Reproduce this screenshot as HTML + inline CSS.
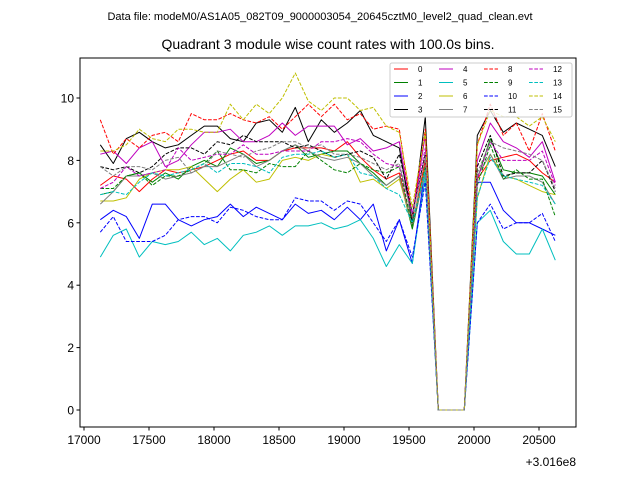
<!DOCTYPE html>
<html><head><meta charset="utf-8"><style>
body{margin:0;background:#fff;font-family:"Liberation Sans","DejaVu Sans",sans-serif;}
svg text{font-family:"Liberation Sans","DejaVu Sans",sans-serif;}
</style></head><body>
<svg id="chart" width="640" height="480" viewBox="0 0 640 480">
<rect width="640" height="480" fill="#fff"/>
<text x="320" y="20" font-size="11" text-anchor="middle">Data file: modeM0/AS1A05_082T09_9000003054_20645cztM0_level2_quad_clean.evt</text>
<text x="328" y="49" font-size="14" text-anchor="middle">Quadrant 3 module wise count rates with 100.0s bins.</text>
<g id="series"></g>
<g id="axes"></g>
<g id="legend"></g>
</svg>
<script>
const xStart = 17125, xStep = 100;
const xTicks = [17000,17500,18000,18500,19000,19500,20000,20500];
const yTicks = [0,2,4,6,8,10];
const names = ["0","1","2","3","4","5","6","7","8","9","10","11","12","13","14","15"];
const s0=[7.2,7.5,7.4,7.0,7.4,7.7,7.6,7.7,7.8,8.0,8.2,8.3,8.0,8.0,8.3,8.4,8.4,8.4,8.3,8.6,8.1,7.7,7.4,7.6,5.9,8.0,0,0,0,7.4,8.0,8.1,8.2,8.0,7.6,7.3];
const s1=[6.9,7.0,7.5,7.6,7.3,7.6,7.4,7.8,8.0,7.8,8.4,8.2,7.9,8.0,8.3,8.5,8.1,8.2,8.3,8.3,7.9,7.6,7.2,7.5,5.8,7.7,0,0,0,7.4,8.7,7.7,7.6,7.6,7.5,6.9];
const s2=[6.1,6.4,6.2,5.5,6.6,6.6,6.1,5.9,6.1,6.2,6.6,6.2,6.5,6.3,6.1,6.6,6.3,6.4,6.1,6.5,6.1,6.6,5.1,6.1,4.7,7.8,0,0,0,7.3,7.3,6.4,6.0,6.0,5.8,5.6];
const s3=[8.5,7.9,8.7,8.9,8.6,8.4,8.5,8.8,9.1,9.1,8.7,8.6,9.2,9.3,8.9,9.7,8.6,9.3,8.9,9.2,9.6,8.8,8.6,8.4,6.0,9.4,0,0,0,8.8,9.6,8.9,9.2,9.0,8.8,7.8];
const s4=[8.2,8.3,7.9,8.4,8.6,7.8,8.0,8.5,8.9,8.9,9.0,8.6,8.6,8.8,9.2,8.8,9.1,9.1,9.1,8.5,8.7,8.3,8.4,8.6,6.2,8.8,0,0,0,8.0,9.2,8.6,8.4,8.1,8.6,7.3];
const s5=[4.9,5.6,5.8,4.9,5.4,5.3,5.4,5.7,5.3,5.5,5.1,5.6,5.7,5.9,5.6,5.9,5.9,6.0,5.8,5.9,6.1,5.5,4.6,5.3,4.7,7.5,0,0,0,6.0,6.4,5.4,5.0,5.0,5.8,4.8];
const s6=[6.7,6.7,6.8,7.4,7.6,7.7,7.7,7.8,7.4,7.0,7.4,7.7,7.3,7.4,8.0,8.1,8.0,8.2,8.1,8.2,7.3,7.4,7.1,7.4,5.9,7.8,0,0,0,6.8,8.2,7.5,7.4,7.2,7.0,6.9];
const s7=[6.6,7.0,7.5,7.5,7.6,7.4,7.5,7.6,7.8,7.8,8.0,8.2,7.8,8.0,8.3,8.5,8.3,8.1,8.0,8.1,7.9,7.5,7.2,7.5,5.9,7.6,0,0,0,7.5,8.2,7.4,7.5,7.5,7.3,6.6];
const s8=[9.3,8.2,8.7,8.4,8.8,8.9,8.6,9.5,9.3,9.3,9.5,9.3,9.2,9.4,9.0,9.4,9.8,9.4,9.8,9.3,9.5,9.0,9.1,9.0,6.2,9.0,0,0,0,8.5,9.8,8.8,9.2,8.3,9.5,8.3];
const s9=[7.1,7.1,7.5,7.6,7.2,7.5,7.5,7.7,7.9,8.3,7.7,7.7,7.6,7.9,7.8,7.8,8.3,8.0,7.7,7.6,7.9,7.7,7.6,7.8,5.9,7.8,0,0,0,7.2,8.5,7.4,7.7,7.4,7.4,6.2];
const s10=[5.7,6.2,5.4,5.4,5.4,5.6,6.1,6.2,6.2,6.0,6.5,6.4,6.2,6.1,6.1,6.8,6.7,6.7,6.4,6.7,6.6,6.0,5.4,6.1,4.9,7.3,0,0,0,6.0,6.6,5.8,6.0,6.0,6.3,5.4];
const s11=[7.8,7.7,7.8,7.6,7.8,8.2,8.4,8.4,8.2,8.6,8.5,8.8,8.6,8.6,8.6,8.4,8.5,8.3,8.1,8.2,8.3,8.1,7.4,8.2,6.3,8.2,0,0,0,7.8,8.8,7.5,7.6,7.6,8.0,7.0];
const s12=[7.1,7.3,7.8,7.5,7.6,7.7,8.4,8.0,8.1,8.2,8.2,8.5,8.2,8.2,8.3,8.3,8.3,8.6,8.6,8.7,8.6,8.2,7.9,7.8,6.3,8.4,0,0,0,7.4,8.6,8.0,8.0,8.0,8.3,7.2];
const s13=[6.9,7.0,6.9,7.3,7.6,7.5,7.6,7.7,7.9,7.6,7.9,7.9,7.8,7.6,8.1,8.2,8.2,8.3,8.1,8.2,7.6,7.5,7.1,6.9,6.0,7.7,0,0,0,6.8,8.1,7.5,7.4,7.3,7.2,6.6];
const s14=[8.3,8.3,8.5,9.0,8.7,8.6,9.0,9.0,8.9,8.9,9.8,9.3,9.8,9.5,10.0,10.8,9.9,9.6,10.0,10.0,9.6,9.7,9.1,8.9,6.5,8.9,0,0,0,8.5,9.6,9.4,9.4,9.1,9.4,8.6];
const s15=[7.8,7.5,7.8,7.8,7.7,8.0,8.1,7.6,7.8,8.3,8.2,8.1,8.3,8.4,8.6,8.6,8.4,8.5,8.2,8.2,8.1,7.9,7.7,7.9,6.2,8.1,0,0,0,7.6,8.6,8.4,8.3,8.2,8.0,7.1];
const seriesData=[s0,s1,s2,s3,s4,s5,s6,s7,s8,s9,s10,s11,s12,s13,s14,s15];

const colors=["#ff0000","#008000","#0000ff","#000000","#bf00bf","#00bfbf","#bfbf00","#808080"];
const L=80,R=576,T=58,B=427;
function xs(v){return 84+(v-17000)*0.13;}
function ys(v){return 410-v*31.2;}
const NS="http://www.w3.org/2000/svg";
function mk(tag,attrs,parent){const e=document.createElementNS(NS,tag);for(const k in attrs)e.setAttribute(k,attrs[k]);parent.appendChild(e);return e;}
const sg=document.getElementById('series');
seriesData.forEach((d,si)=>{
  const pts=d.map((v,i)=>xs(xStart+i*xStep).toFixed(1)+","+ys(v).toFixed(1)).join(" ");
  const pl=mk('polyline',{points:pts,fill:"none",stroke:colors[si%8],"stroke-width":1,"stroke-linejoin":"round"},sg);
  if(si>=8)pl.setAttribute('stroke-dasharray','3.7,1.6');
  
  
});
const ax=document.getElementById('axes');
const fr=mk('rect',{x:L,y:T,width:R-L,height:B-T,fill:"none",stroke:"#000","stroke-width":1},ax);


xTicks.forEach(t=>{
  const x=xs(t);
  mk('line',{x1:x,x2:x,y1:B,y2:B+3.5,stroke:"#000"},ax);
  const tx=mk('text',{x:x,y:B+17,"font-size":12,"text-anchor":"middle"},ax);
  tx.textContent=t;
  
  
});
yTicks.forEach(t=>{
  const y=ys(t);
  mk('line',{x1:L-3.5,x2:L,y1:y,y2:y,stroke:"#000"},ax);
  const tx=mk('text',{x:L-6,y:y+4.5,"font-size":12,"text-anchor":"end"},ax);
  tx.textContent=t;
  
  
});
const off=mk('text',{x:R,y:466,"font-size":12,"text-anchor":"end"},ax);
off.textContent="+3.016e8";


const lg=document.getElementById('legend');
const box=mk('rect',{x:390,y:63,width:182,height:54,rx:2,fill:"#fff","fill-opacity":0.8,stroke:"#ccc","stroke-width":1},lg);


names.forEach((n,i)=>{
  const col=Math.floor(i/4),row=i%4;
  const x=394+col*45,y=69+row*13.5;
  const ln=mk('line',{x1:x,x2:x+14,y1:y,y2:y,stroke:colors[i%8],"stroke-width":1},lg);
  if(i>=8)ln.setAttribute('stroke-dasharray','3.7,1.6');
  const tx=mk('text',{x:x+24,y:y+3,"font-size":8},lg);
  tx.textContent=n;
  
  
});
</script>
</body></html>
